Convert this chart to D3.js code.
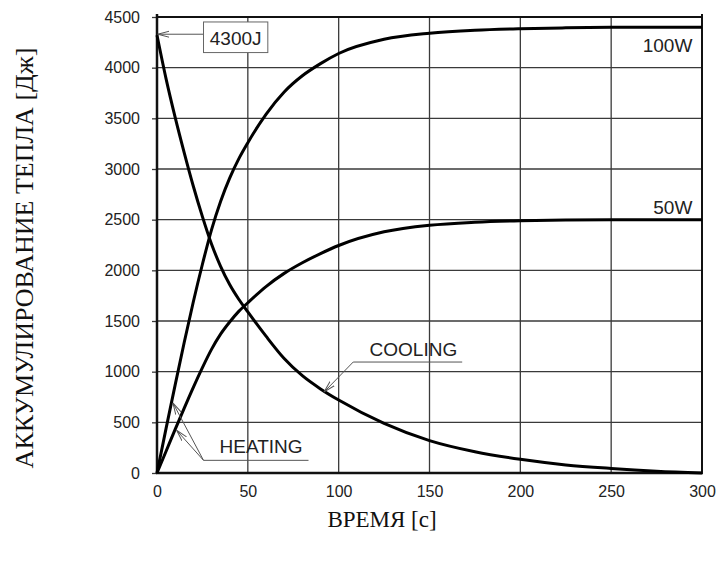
<!DOCTYPE html>
<html>
<head>
<meta charset="utf-8">
<script src="https://cdn.jsdelivr.net/npm/d3@7"></script>
<style>
  body { margin: 0; background: #fff; }
  .tick text { font-family: "Liberation Sans", Arial, sans-serif; font-size: 16px; fill: #222; }
  .note { font-family: "Liberation Sans", Arial, sans-serif; font-size: 19px; fill: #222; }
  .title { font-family: "Liberation Serif", "Times New Roman", serif; fill: #111; }
</style>
</head>
<body>
<svg id="chart" width="719" height="562"></svg>
<script>
// values (seconds, joules)
var times   = [0, 5, 10, 15, 20, 25, 30, 35, 40, 45, 50, 60, 70, 80, 90, 100, 125, 150, 175, 200, 225, 250, 275, 300];
var heat100 = [0, 440, 870, 1290, 1690, 2060, 2400, 2680, 2910, 3100, 3260, 3540, 3760, 3920, 4040, 4140, 4280, 4340, 4370, 4385, 4393, 4398, 4400, 4400];
var heat50  = [0, 215, 430, 640, 845, 1040, 1220, 1370, 1490, 1595, 1680, 1840, 1970, 2075, 2165, 2245, 2380, 2445, 2475, 2490, 2497, 2500, 2500, 2500];
var cooling = [4320, 3890, 3510, 3160, 2830, 2530, 2260, 2040, 1860, 1715, 1590, 1350, 1130, 960, 830, 720, 490, 320, 210, 135, 80, 45, 18, 0];

var xTicks = [0, 50, 100, 150, 200, 250, 300];
var yTicks = [0, 500, 1000, 1500, 2000, 2500, 3000, 3500, 4000, 4500];

var xTitle = "ВРЕМЯ [с]"
  , yTitle = "АККУМУЛИРОВАНИЕ ТЕПЛА [Дж]";

var margin = {top: 17, right: 17, bottom: 89, left: 157}
  , width = 719 - margin.left - margin.right
  , height = 562 - margin.top - margin.bottom;

var svg = d3.select("#chart");
var g = svg.append("g")
    .attr("transform", "translate(" + margin.left + "," + margin.top + ")");

var x = d3.scaleLinear().domain([0, 300]).range([0, width]);
var y = d3.scaleLinear().domain([0, 4500]).range([height, 0]);

// arrow head, open V
svg.append("defs").append("marker")
    .attr("id", "arrow")
    .attr("viewBox", "0 0 12 8")
    .attr("refX", 11.5).attr("refY", 4)
    .attr("markerWidth", 12).attr("markerHeight", 8)
    .attr("markerUnits", "userSpaceOnUse")
    .attr("orient", "auto")
  .append("path")
    .attr("d", "M0,1 L11.5,4 L0,7")
    .attr("fill", "none")
    .attr("stroke", "#555")
    .attr("stroke-width", 1);

// grid
g.selectAll(".vgrid")
    .data(xTicks.slice(1, -1))
  .enter().append("line")
    .attr("class", "vgrid")
    .attr("x1", d => x(d)).attr("x2", d => x(d))
    .attr("y1", 0).attr("y2", height)
    .attr("stroke", "#3a3a3a").attr("stroke-width", 1.3);

g.selectAll(".hgrid")
    .data(yTicks.slice(1, -1))
  .enter().append("line")
    .attr("class", "hgrid")
    .attr("x1", 0).attr("x2", width)
    .attr("y1", d => y(d)).attr("y2", d => y(d))
    .attr("stroke", "#3a3a3a").attr("stroke-width", 1.3);

// axes
var yAxis = g.append("g")
    .call(d3.axisLeft(y).tickValues(yTicks).tickSize(5).tickPadding(12).tickFormat(d3.format("d")));
yAxis.select(".domain").remove();
yAxis.selectAll(".tick line").attr("stroke", "#3a3a3a").attr("stroke-width", 1.3);

var xAxis = g.append("g")
    .attr("transform", "translate(0," + height + ")")
    .call(d3.axisBottom(x).tickValues(xTicks).tickSize(0).tickPadding(13));
xAxis.select(".domain").remove();

// frame
g.append("line").attr("x1", 0).attr("x2", width).attr("y1", 0).attr("y2", 0)
    .attr("stroke", "#111").attr("stroke-width", 1.8);
g.append("line").attr("x1", width).attr("x2", width).attr("y1", -3).attr("y2", height)
    .attr("stroke", "#111").attr("stroke-width", 2);
g.append("line").attr("x1", 0).attr("x2", 0).attr("y1", -3).attr("y2", height + 1)
    .attr("stroke", "#111").attr("stroke-width", 2.5);
g.append("line").attr("x1", -1).attr("x2", width + 1).attr("y1", height).attr("y2", height)
    .attr("stroke", "#111").attr("stroke-width", 2.5);

// curves
var series = [heat100, heat50, cooling];
var line = d3.line()
    .x((d, i) => x(times[i]))
    .y(d => y(d))
    .curve(d3.curveMonotoneX);

g.selectAll(".curve")
    .data(series)
  .enter().append("path")
    .attr("class", "curve")
    .attr("d", line)
    .attr("fill", "none")
    .attr("stroke", "#000")
    .attr("stroke-width", 3)
    .attr("stroke-linejoin", "round");

// annotations (data units)
var leaders = [
  {pts: [[83.4, 125], [25.6, 125], [8.8, 690]], arrow: true},
  {pts: [[25.6, 125], [10.8, 421]], arrow: true},
  {pts: [[168, 1095], [108, 1095], [92, 800]], arrow: true},
  {pts: [[25.6, 4330], [0.4, 4330]], arrow: true}
];
var leaderLine = d3.line().x(d => x(d[0])).y(d => y(d[1]));

g.selectAll(".leader")
    .data(leaders)
  .enter().append("path")
    .attr("class", "leader")
    .attr("d", d => leaderLine(d.pts))
    .attr("fill", "none")
    .attr("stroke", "#555")
    .attr("stroke-width", 1)
    .attr("marker-end", d => d.arrow ? "url(#arrow)" : null);

// 4300J box
g.append("rect")
    .attr("x", x(25.6)).attr("y", y(4451))
    .attr("width", x(61) - x(25.6)).attr("height", y(4149) - y(4451))
    .attr("fill", "#fff")
    .attr("stroke", "#666")
    .attr("stroke-width", 1);

var notes = [
  {text: "4300J", t: 43.3, v: 4220, anchor: "middle"},
  {text: "100W", t: 294.7, v: 4152, anchor: "end"},
  {text: "50W", t: 294.7, v: 2560, anchor: "end"},
  {text: "COOLING", t: 117, v: 1155, anchor: "start"},
  {text: "HEATING", t: 34.4, v: 197, anchor: "start"}
];
g.selectAll(".note")
    .data(notes)
  .enter().append("text")
    .attr("class", "note")
    .attr("x", d => x(d.t))
    .attr("y", d => y(d.v))
    .attr("text-anchor", d => d.anchor)
    .text(d => d.text);

// titles
svg.append("text")
    .attr("class", "title")
    .attr("x", 382)
    .attr("y", 527)
    .attr("text-anchor", "middle")
    .style("font-size", "23px")
    .text(xTitle);

svg.append("text")
    .attr("class", "title")
    .attr("transform", "translate(33,258) rotate(-90)")
    .attr("text-anchor", "middle")
    .style("font-size", "26px")
    .text(yTitle);
</script>
</body>
</html>
